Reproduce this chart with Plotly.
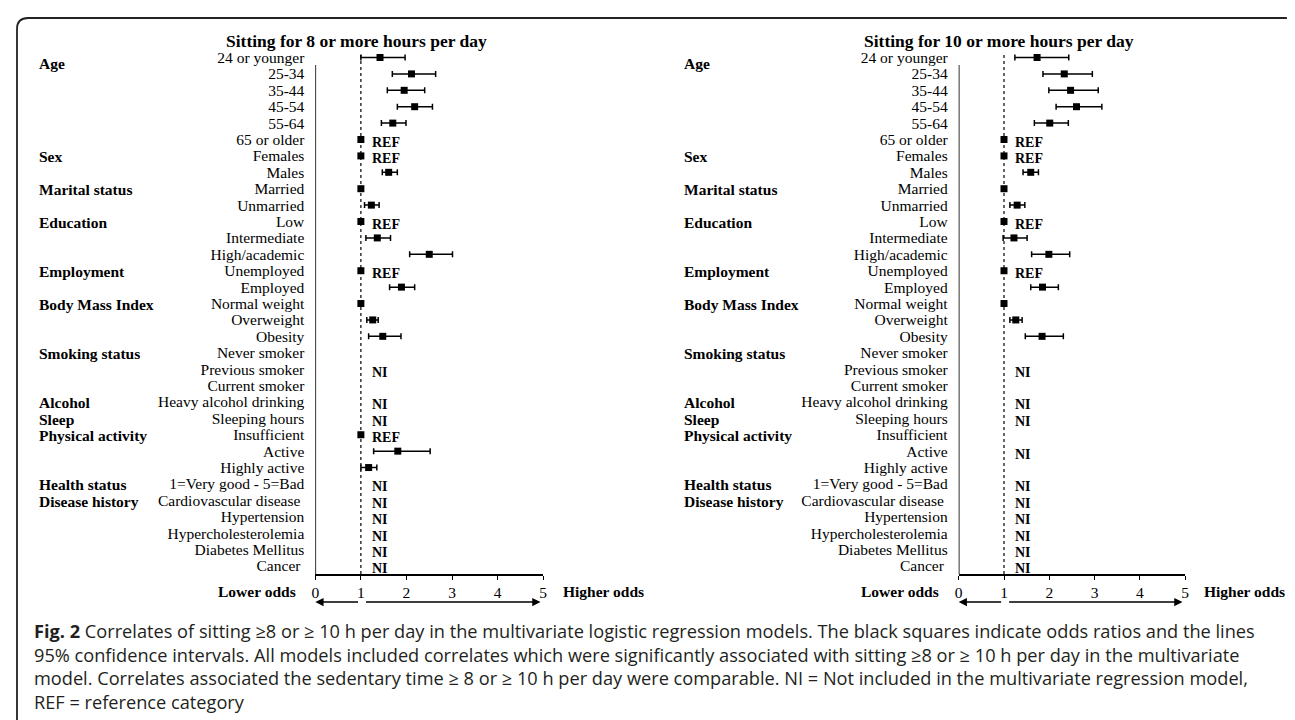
import plotly.graph_objects as go

W, H = 1295, 720

rows = ["24 or younger", "25-34", "35-44", "45-54", "55-64", "65 or older",
        "Females", "Males", "Married", "Unmarried", "Low", "Intermediate",
        "High/academic", "Unemployed", "Employed", "Normal weight", "Overweight",
        "Obesity", "Never smoker", "Previous smoker", "Current smoker",
        "Heavy alcohol drinking", "Sleeping hours", "Insufficient", "Active",
        "Highly active", "1=Very good - 5=Bad", "Cardiovascular disease ",
        "Hypertension", "Hypercholesterolemia", "Diabetes Mellitus", "Cancer "]

groups = ["Age", "Sex", "Marital status", "Education", "Employment",
          "Body Mass Index", "Smoking status", "Alcohol", "Sleep",
          "Physical activity", "Health status", "Disease history"]
group_rows = [0.3, 6, 8, 10, 13, 15, 18, 21, 22, 23, 26, 27]

N = None
# Sitting >= 8 h: odds ratio, lower 95% CI, upper 95% CI
or8 = [1.42, 2.11, 1.95, 2.18, 1.70, 1.00, 1.00, 1.61, 1.00, 1.23, 1.00, 1.36,
       2.50, 1.00, 1.89, 1.00, 1.26, 1.48, N, N, N, N, N, 1.00, 1.81, 1.17,
       N, N, N, N, N, N]
lo8 = [1.00, 1.69, 1.58, 1.80, 1.45, 1.00, 1.00, 1.47, 1.00, 1.08, 1.00, 1.11,
       2.07, 1.00, 1.63, 1.00, 1.13, 1.17, N, N, N, N, N, 1.00, 1.28, 1.00,
       N, N, N, N, N, N]
hi8 = [1.97, 2.64, 2.40, 2.57, 1.99, 1.00, 1.00, 1.80, 1.00, 1.40, 1.00, 1.65,
       3.01, 1.00, 2.18, 1.00, 1.38, 1.88, N, N, N, N, N, 1.00, 2.52, 1.35,
       N, N, N, N, N, N]
note8 = ["", "", "", "", "", "REF", "REF", "", "", "", "REF", "", "", "REF", "",
         "", "", "", "", "NI", "", "NI", "NI", "REF", "", "", "NI", "NI", "NI",
         "NI", "NI", "NI"]

# Sitting >= 10 h
or10 = [1.73, 2.33, 2.47, 2.60, 2.01, 1.00, 1.00, 1.59, 1.00, 1.29, 1.00, 1.22,
        1.99, 1.00, 1.85, 1.00, 1.26, 1.84, N, N, N, N, N, N, N, N,
        N, N, N, N, N, N]
lo10 = [1.24, 1.86, 1.99, 2.15, 1.67, 1.00, 1.00, 1.42, 1.00, 1.13, 1.00, 0.98,
        1.61, 1.00, 1.59, 1.00, 1.13, 1.47, N, N, N, N, N, N, N, N,
        N, N, N, N, N, N]
hi10 = [2.43, 2.95, 3.08, 3.16, 2.42, 1.00, 1.00, 1.76, 1.00, 1.46, 1.00, 1.51,
        2.45, 1.00, 2.20, 1.00, 1.40, 2.31, N, N, N, N, N, N, N, N,
        N, N, N, N, N, N]
note10 = ["", "", "", "", "", "REF", "REF", "", "", "", "REF", "", "", "REF", "",
          "", "", "", "", "NI", "", "NI", "NI", "", "NI", "", "NI", "NI", "NI",
          "NI", "NI", "NI"]

titles = ["Sitting for 8 or more hours per day", "Sitting for 10 or more hours per day"]
xticks = [0, 1, 2, 3, 4, 5]

caption_lines = [
    "<b>Fig. 2</b> Correlates of sitting ≥8 or ≥ 10 h per day in the multivariate logistic regression models. The black squares indicate odds ratios and the lines",
    "95% confidence intervals. All models included correlates which were significantly associated with sitting ≥8 or ≥ 10 h per day in the multivariate",
    "model. Correlates associated the sedentary time ≥ 8 or ≥ 10 h per day were comparable. NI = Not included in the multivariate regression model,",
    "REF = reference category",
]

SERIF = "Liberation Serif, Times New Roman, serif"
CAPFONT = "Open Sans, sans-serif"


def px_x(p):
    return p / W


def px_y(p):
    return 1 - p / H


fig = go.Figure()

panels = [(or8, lo8, hi8, note8, "x", "y", (307.3, 535.2)),
          (or10, lo10, hi10, note10, "x2", "y2", (950.7, 1177.2))]

ybottom, ytop = 31.49, -1.5
ydom = [px_y(566.0), px_y(24.9)]

annotations = []
shapes = []

for i, (o, lo, hi, note, xa, ya, (x0p, x1p)) in enumerate(panels):
    plus = [None if v is None else h - v for v, h in zip(o, hi)]
    minus = [None if v is None else v - l for v, l in zip(o, lo)]
    fig.add_trace(go.Scatter(
        x=o, y=list(range(len(rows))), mode="markers", xaxis=xa, yaxis=ya,
        marker=dict(symbol="square", size=7, color="black"),
        error_x=dict(type="data", symmetric=False, array=plus, arrayminus=minus,
                     color="black", thickness=1.5, width=3),
        cliponaxis=False, showlegend=False, hoverinfo="skip"))

    sfx = "" if i == 0 else "2"
    fig.layout["xaxis" + sfx] = dict(
        domain=[px_x(x0p), px_x(x1p)], range=[0, 5], anchor="y" + sfx,
        tickvals=xticks, ticktext=[str(t) for t in xticks],
        ticks="outside", ticklen=4, tickwidth=1.3, tickcolor="black",
        showline=True, linecolor="black", linewidth=1.6,
        showgrid=False, zeroline=False,
        tickfont=dict(family=SERIF, size=15.5, color="black"))
    fig.layout["yaxis" + sfx] = dict(
        domain=ydom, range=[ybottom, ytop], anchor="x" + sfx,
        tickvals=list(range(len(rows))), ticktext=rows, ticks="",
        ticklabelstandoff=10,
        showline=False, showgrid=False, zeroline=False,
        tickfont=dict(family=SERIF, size=15.5, color="black"))

    # axis line and reference (OR = 1) dotted line
    shapes.append(dict(type="line", xref=xa, yref=ya, x0=0, x1=0, y0=0.45, y1=ybottom,
                       line=dict(color="black", width=1.6)))
    shapes.append(dict(type="line", xref=xa, yref=ya, x0=1, x1=1, y0=-0.15, y1=ybottom,
                       line=dict(color="black", width=1.2, dash="dot")))

    # title
    annotations.append(dict(text="<b>" + titles[i] + "</b>", xref=xa + " domain", x=0.18,
                            yref="paper", y=px_y(33), xanchor="center", yanchor="middle",
                            showarrow=False, font=dict(family=SERIF, size=17.5, color="black")))
    # group labels
    for g, r in zip(groups, group_rows):
        annotations.append(dict(text="<b>" + g + "</b>", xref=xa + " domain", x=-1.22,
                                yref=ya, y=r, xanchor="left", yanchor="middle",
                                showarrow=False, yshift=-1,
                                font=dict(family=SERIF, size=15.5, color="black")))
    # REF / NI notes
    for r, t in enumerate(note):
        if t:
            annotations.append(dict(text="<b>" + t + "</b>", xref=xa, x=1.2, yref=ya, y=r,
                                    xanchor="left", yanchor="middle", showarrow=False,
                                    yshift=-3, font=dict(family=SERIF, size=14, color="black")))
    # lower / higher odds
    annotations.append(dict(text="<b>Lower odds</b>", xref=xa + " domain", x=-0.078,
                            yref="paper", y=px_y(583), xanchor="right", yanchor="middle",
                            showarrow=False, font=dict(family=SERIF, size=15.5, color="black")))
    annotations.append(dict(text="<b>Higher odds</b>", xref=xa + " domain", x=1.076,
                            yref="paper", y=px_y(583), xanchor="left", yanchor="middle",
                            showarrow=False, font=dict(family=SERIF, size=15.5, color="black")))
    # arrows
    annotations.append(dict(text="", xref=xa, x=0.0, yref="paper", y=px_y(594),
                            axref=xa, ax=0.97, ay=0, showarrow=True, arrowhead=2,
                            arrowsize=1.1, arrowwidth=1.5, arrowcolor="black", standoff=0))
    annotations.append(dict(text="", xref=xa, x=4.94, yref="paper", y=px_y(594),
                            axref=xa, ax=1.08, ay=0, showarrow=True, arrowhead=2,
                            arrowsize=1.1, arrowwidth=1.5, arrowcolor="black", standoff=0))

# caption (one block, four lines)
annotations.append(dict(text="<br>".join(caption_lines), xref="paper", x=px_x(24),
                        yref="paper", y=px_y(658), xanchor="left", yanchor="middle",
                        align="left", showarrow=False,
                        font=dict(family=CAPFONT, size=18.2, color="#231f20")))

# rounded border box
def P(x, y):
    return f"{px_x(x):.5f},{px_y(y):.5f}"

path = (f"M {P(9, 722)} L {P(9, 21)} Q {P(9, 10)} {P(20, 10)} L {P(1277, 10)} "
        f"Q {P(1288, 10)} {P(1288, 21)} L {P(1288, 722)}")
shapes.append(dict(type="path", xref="paper", yref="paper", path=path,
                   line=dict(color="#222222", width=1.8)))

fig.update_layout(width=W, height=H, margin=dict(l=0, r=0, t=0, b=0, autoexpand=False),
                  paper_bgcolor="white", plot_bgcolor="white",
                  annotations=annotations, shapes=shapes, showlegend=False)

fig.write_html("out.html")
